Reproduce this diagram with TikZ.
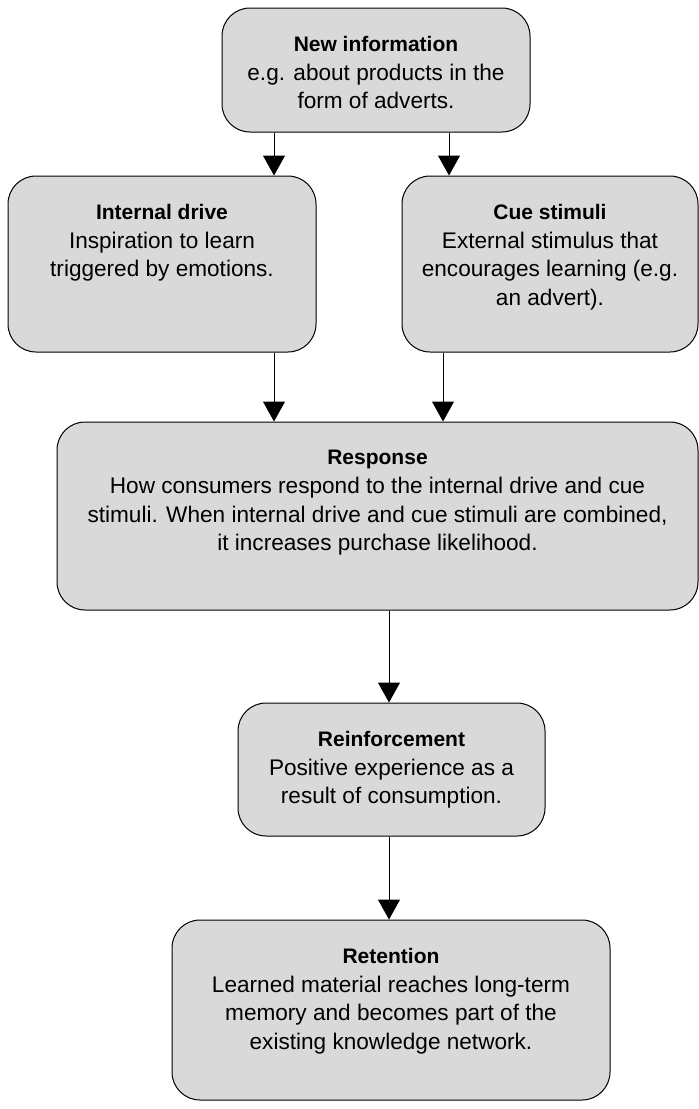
\documentclass[tikz,border=0pt]{standalone}
\usepackage{fontspec}
\setmainfont{Liberation Sans}
\usetikzlibrary{arrows.meta}
\definecolor{boxgray}{RGB}{217,217,217}
% bold heading line inside a box
\newcommand\boxtitle[1]{{\fontsize{21}{28.7}\selectfont\bfseries #1}}

\begin{document}
\begin{tikzpicture}[x=1pt,y=1pt,
  box/.style={draw=black, line width=1pt, fill=boxgray, rounded corners=28pt, inner sep=0pt},
  txt/.style={anchor=north, inner sep=0pt, align=center, font=\fontsize{22.6}{28.7}\selectfont},
  arr/.style={line width=1pt, -{Triangle[width=22pt,length=20pt]}}
]
\useasboundingbox (0,0) rectangle (699,-1109);

% boxes
\node[box, minimum width=308pt, minimum height=124pt] (newinfo) at (376,-70) {};
\node[box, minimum width=308pt, minimum height=176pt] (drive) at (162,-264) {};
\node[box, minimum width=296pt, minimum height=176pt] (cue) at (550,-264) {};
\node[box, minimum width=641pt, minimum height=188pt] (response) at (377.5,-516) {};
\node[box, minimum width=307pt, minimum height=133pt] (reinf) at (391.5,-769.5) {};
\node[box, minimum width=438pt, minimum height=180pt] (retention) at (391,-1010) {};

% box texts
\node[txt] (newinfoT) at ([yshift=-28.5pt]newinfo.north)
  {\boxtitle{New information}\\e.g. about products in the\\form of adverts.};
\node[txt] (driveT) at ([yshift=-28.5pt]drive.north)
  {\boxtitle{Internal drive}\\Inspiration to learn\\triggered by emotions.};
\node[txt] (cueT) at ([yshift=-28.5pt]cue.north)
  {\boxtitle{Cue stimuli}\\External stimulus that\\encourages learning (e.g.\\an advert).};
\node[txt] (responseT) at ([yshift=-28.5pt]response.north)
  {\boxtitle{Response}\\How consumers respond to the internal drive and cue\\stimuli. When internal drive and cue stimuli are combined,\\it increases purchase likelihood.};
\node[txt] (reinfT) at ([yshift=-28.5pt]reinf.north)
  {\boxtitle{Reinforcement}\\Positive experience as a\\result of consumption.};
\node[txt] (retentionT) at ([yshift=-28.5pt]retention.north)
  {\boxtitle{Retention}\\Learned material reaches long-term\\memory and becomes part of the\\existing knowledge network.};

% connectors
\draw[arr] ([xshift=-102pt]newinfo.south) -- ([xshift=-102pt]newinfo.south |- drive.north);
\draw[arr] ([xshift=73pt]newinfo.south) -- ([xshift=73pt]newinfo.south |- cue.north);
\draw[arr] ([xshift=112pt]drive.south) -- ([xshift=112pt]drive.south |- response.north);
\draw[arr] ([xshift=-107pt]cue.south) -- ([xshift=-107pt]cue.south |- response.north);
\draw[arr] ([xshift=11.5pt]response.south) -- ([xshift=11.5pt]response.south |- reinf.north);
\draw[arr] ([xshift=-2.5pt]reinf.south) -- ([xshift=-2.5pt]reinf.south |- retention.north);
\end{tikzpicture}
\end{document}
